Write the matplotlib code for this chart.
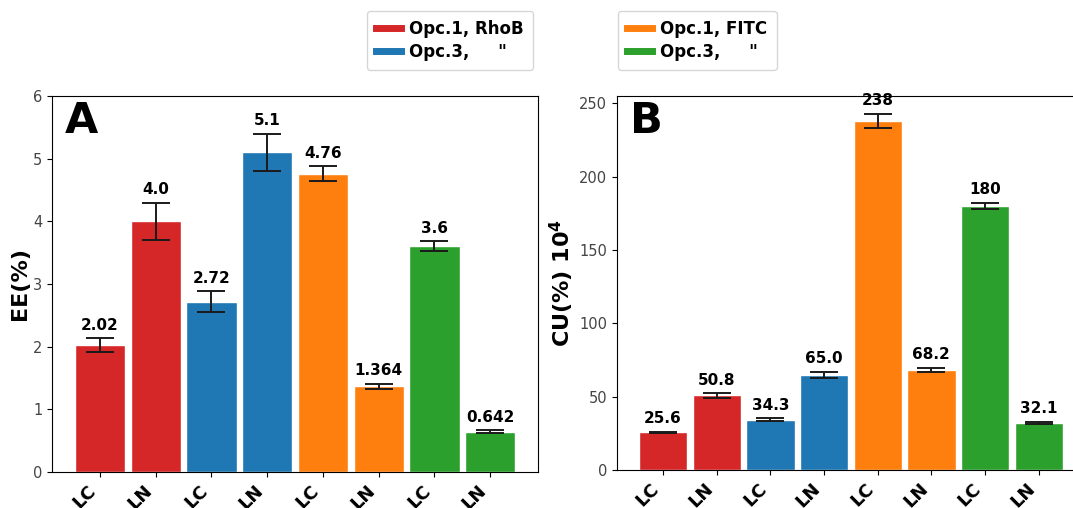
import matplotlib.pyplot as plt
import numpy as np
from matplotlib.lines import Line2D

# sample groups along the x axis
labels = ["LC", "LN", "LC", "LN", "LC", "LN", "LC", "LN"]
colors = ["tab:red", "tab:red", "tab:blue", "tab:blue",
          "tab:orange", "tab:orange", "tab:green", "tab:green"]

# encapsulation efficiency, EE(%)
ee = [2.02, 4.0, 2.72, 5.1, 4.76, 1.364, 3.6, 0.642]
ee_err = [0.11, 0.3, 0.16, 0.3, 0.12, 0.04, 0.08, 0.02]
ee_txt = ["2.02", "4.0", "2.72", "5.1", "4.76", "1.364", "3.6", "0.642"]

# cellular uptake, CU(%) x 10^4
cu = [25.6, 50.8, 34.3, 65.0, 238, 68.2, 180, 32.1]
cu_err = [0.5, 1.5, 0.8, 2.0, 4.7, 1.5, 2.0, 0.7]
cu_txt = ["25.6", "50.8", "34.3", "65.0", "238", "68.2", "180", "32.1"]

fig = plt.figure(figsize=(10.73, 5.08), dpi=100)
axA = fig.add_axes([0.0485, 0.071, 0.453, 0.740])
axB = fig.add_axes([0.575, 0.075, 0.436, 0.736])  # runs a little past the right edge

x = np.arange(len(labels))


def draw(ax, vals, errs, txts, ymax, step, ylabel, tag):
    bars = ax.bar(x, vals, width=0.9, color=colors, edgecolor="white",
                  linewidth=1, yerr=errs, capsize=10,
                  error_kw=dict(ecolor="#1a1a1a", elinewidth=1.4, capthick=1.4))
    for i, b in enumerate(bars):
        ax.annotate(txts[i], (b.get_x() + b.get_width() / 2, vals[i] + errs[i]),
                    xytext=(0, 4), textcoords="offset points",
                    ha="center", va="bottom", fontsize=11, fontweight="bold")
    ax.set_xlim(-0.86, 7.86)
    ax.set_ylim(0, ymax)
    ax.set_yticks(np.arange(0, ymax + 0.1, step))
    ax.set_xticks(x)
    ax.set_xticklabels(labels, rotation=45, ha="right", fontsize=13,
                       fontweight="bold")
    ax.tick_params(axis="y", labelsize=10.5, labelcolor="#444444")
    ax.set_ylabel(ylabel, fontsize=16, fontweight="bold", labelpad=2)
    ax.text(0.027, 0.99, tag, transform=ax.transAxes, fontsize=31,
            fontweight="bold", va="top", ha="left")


draw(axA, ee, ee_err, ee_txt, 6, 1, "EE(%)", "A")
draw(axB, cu, cu_err, cu_txt, 255, 50, r"CU(%) $\mathbf{10^4}$", "B")
axB.set_yticks(np.arange(0, 251, 50))

# legends above each panel
h1 = [Line2D([0], [0], color="tab:red", lw=5), Line2D([0], [0], color="tab:blue", lw=5)]
h2 = [Line2D([0], [0], color="tab:orange", lw=5), Line2D([0], [0], color="tab:green", lw=5)]
leg_kw = dict(loc="upper left", prop=dict(weight="bold", size=12),
              handlelength=1.5, handletextpad=0.5, labelspacing=0.3,
              borderpad=0.55)
fig.legend(h1, ["Opc.1, RhoB", 'Opc.3,     "'],
           bbox_to_anchor=(0.334, 0.995), **leg_kw)
fig.legend(h2, ["Opc.1, FITC", 'Opc.3,     "'],
           bbox_to_anchor=(0.568, 0.995), **leg_kw)

fig.savefig("out.png", dpi=100)
